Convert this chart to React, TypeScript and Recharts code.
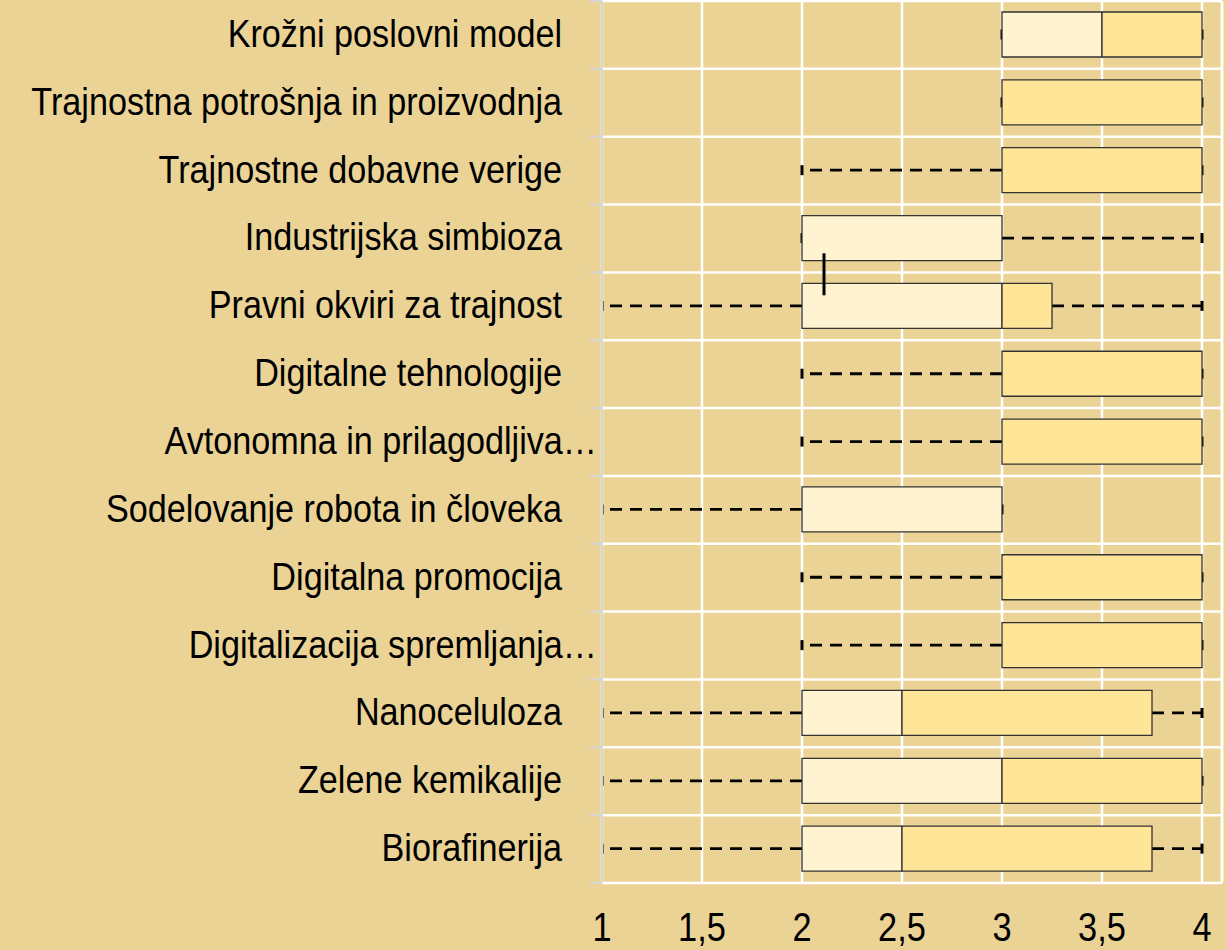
import { ComposedChart, Bar, Scatter, XAxis, YAxis, CartesianGrid, ReferenceLine } from "recharts";

const categories = [
  "Krožni poslovni model",
  "Trajnostna potrošnja in proizvodnja",
  "Trajnostne dobavne verige",
  "Industrijska simbioza",
  "Pravni okviri za trajnost",
  "Digitalne tehnologije",
  "Avtonomna in prilagodljiva…",
  "Sodelovanje robota in človeka",
  "Digitalna promocija",
  "Digitalizacija spremljanja…",
  "Nanoceluloza",
  "Zelene kemikalije",
  "Biorafinerija",
];
const minValues = [3, 3, 2, 2, 1, 2, 2, 1, 2, 2, 1, 1, 1];
const q1Values = [3, 3, 3, 2, 2, 3, 3, 2, 3, 3, 2, 2, 2];
const medianValues = [3.5, 3, 3, 3, 3, 3, 3, 3, 3, 3, 2.5, 3, 2.5];
const q3Values = [4, 4, 4, 3, 3.25, 4, 4, 3, 4, 4, 3.75, 4, 3.75];
const maxValues = [4, 4, 4, 4, 4, 4, 4, 3, 4, 4, 4, 4, 4];
const meanMarks: (number | null)[] = [null, null, null, null, 2.11, null, null, null, null, null, null, null, null];
const xTicks = [1, 1.5, 2, 2.5, 3, 3.5, 4];

const data = categories.map((name, i) => ({
  name,
  lowWhisker: [minValues[i], q1Values[i]],
  highWhisker: [q3Values[i], maxValues[i]],
  lower: [q1Values[i], medianValues[i]],
  upper: [medianValues[i], q3Values[i]],
  mean: meanMarks[i],
}));

const W = 1226;
const H = 950;
const TOP = 1;
const XAXIS_H = 67;
const BAND = (H - TOP - XAXIS_H) / categories.length;
const FONT = "'Liberation Sans', Arial, sans-serif";

const LowWhisker = (props: any) => {
  const { x, y, width, height } = props;
  const cy = y + height / 2;
  return (
    <g>
      <line x1={x + width} x2={x} y1={cy} y2={cy} stroke="#000" strokeWidth={2.8} strokeDasharray="12 8" />
      <line x1={x} x2={x} y1={cy - 5} y2={cy + 5} stroke="#000" strokeWidth={3} />
    </g>
  );
};

const HighWhisker = (props: any) => {
  const { x, y, width, height } = props;
  const cy = y + height / 2;
  return (
    <g>
      <line x1={x} x2={x + width} y1={cy} y2={cy} stroke="#000" strokeWidth={2.8} strokeDasharray="12 8" />
      <line x1={x + width} x2={x + width} y1={cy - 5} y2={cy + 5} stroke="#000" strokeWidth={3} />
    </g>
  );
};

const MeanMark = (props: any) => {
  const { cx, cy, payload } = props;
  if (payload == null || payload.mean == null) return <g />;
  return <line x1={cx} x2={cx} y1={cy - 53} y2={cy - 11} stroke="#000" strokeWidth={3} />;
};

const YTick = (props: any) => {
  const { x, y, payload, index } = props;
  const label: string = payload.value;
  const tx = label.endsWith("…") ? x - 5 : x - 40;
  return (
    <g>
      <line x1={x - 12} x2={x} y1={y - BAND / 2} y2={y - BAND / 2} stroke="#d6d6d6" strokeWidth={2} />
      {index === categories.length - 1 && (
        <line x1={x - 12} x2={x} y1={y + BAND / 2} y2={y + BAND / 2} stroke="#d6d6d6" strokeWidth={2} />
      )}
      <text
        transform={`translate(${tx} ${y + 12}) scale(0.9 1)`}
        textAnchor="end"
        fill="#000"
        fontSize={38}
        fontFamily={FONT}
      >
        {label}
      </text>
    </g>
  );
};

const XTick = (props: any) => {
  const { x, y, payload } = props;
  return (
    <text
      transform={`translate(${x} ${y + 58}) scale(0.86 1)`}
      textAnchor="middle"
      fill="#000"
      fontSize={40}
      fontFamily={FONT}
    >
      {String(payload.value).replace(".", ",")}
    </text>
  );
};

export default function App() {
  return (
    <div style={{ width: W, height: H, background: "#EBD396" }}>
      <style>{`body{margin:0;background:#EBD396}`}</style>
      <ComposedChart
        width={W}
        height={H}
        data={data}
        layout="vertical"
        barGap={-45}
        margin={{ top: TOP, right: 4, left: 0, bottom: 0 }}
      >
        <CartesianGrid
          stroke="#ffffff"
          strokeWidth={2.5}
          horizontalCoordinatesGenerator={({ offset }: any) =>
            Array.from({ length: categories.length + 1 }, (_, i) => offset.top + (i * offset.height) / categories.length)
          }
        />
        <ReferenceLine x={4.1} stroke="#ffffff" strokeWidth={2.5} />
        <XAxis
          type="number"
          domain={[1, 4.1]}
          ticks={xTicks}
          allowDataOverflow
          interval={0}
          axisLine={false}
          tickLine={false}
          tickSize={0}
          tickMargin={0}
          height={XAXIS_H}
          tick={<XTick />}
        />
        <YAxis
          type="category"
          dataKey="name"
          width={602}
          interval={0}
          allowDuplicatedCategory={false}
          axisLine={{ stroke: "#d6d6d6", strokeWidth: 2 }}
          tickLine={false}
          tickSize={0}
          tickMargin={0}
          tick={<YTick />}
        />
        <Bar dataKey="lowWhisker" barSize={45} shape={<LowWhisker />} isAnimationActive={false} />
        <Bar dataKey="highWhisker" barSize={45} shape={<HighWhisker />} isAnimationActive={false} />
        <Bar dataKey="lower" barSize={45} fill="#FFF3D1" stroke="#333333" strokeWidth={1.3} isAnimationActive={false} />
        <Bar dataKey="upper" barSize={45} fill="#FFE598" stroke="#333333" strokeWidth={1.3} isAnimationActive={false} />
        <Scatter dataKey="mean" shape={<MeanMark />} isAnimationActive={false} />
      </ComposedChart>
    </div>
  );
}
